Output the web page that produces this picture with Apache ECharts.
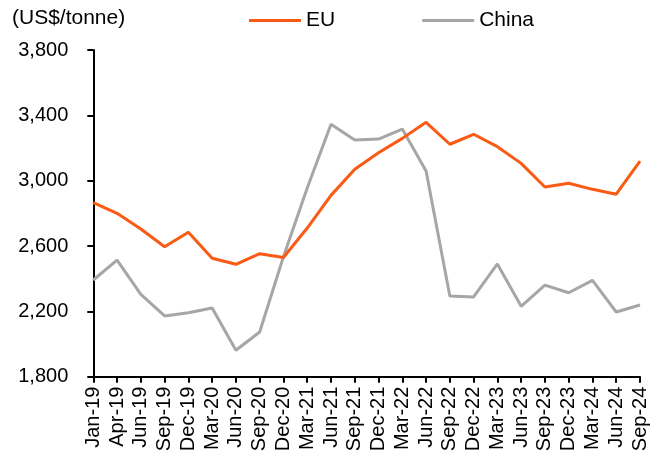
<!DOCTYPE html>
<html>
<head>
<meta charset="utf-8">
<script src="https://cdn.jsdelivr.net/npm/echarts@6/dist/echarts.min.js"></script>
<style>
html,body{margin:0;padding:0;background:#fff;}
#c{width:656px;height:456px;}
</style>
</head>
<body>
<div id="c"></div>
<script>
var categories = ['Jan-19','Apr-19','Jun-19','Sep-19','Dec-19','Mar-20','Jun-20','Sep-20','Dec-20','Mar-21','Jun-21','Sep-21','Dec-21','Mar-22','Jun-22','Sep-22','Dec-22','Mar-23','Jun-23','Sep-23','Dec-23','Mar-24','Jun-24','Sep-24'];
var euValues = [2865, 2800, 2704, 2596, 2684, 2525, 2488, 2553, 2530, 2710, 2910, 3070, 3171, 3259, 3357, 3223, 3284, 3208, 3106, 2961, 2984, 2947, 2917, 3120];
var chinaValues = [2392, 2514, 2304, 2172, 2192, 2221, 1962, 2074, 2535, 2955, 3345, 3249, 3255, 3316, 3059, 2294, 2288, 2490, 2231, 2361, 2314, 2390, 2196, 2239];
var yTicks = {min: 1800, max: 3800, interval: 400};
var unitLabel = '(US$/tonne)';

var FONT = '"Liberation Sans", Arial, sans-serif';
var chart = echarts.init(document.getElementById('c'), null, {renderer: 'canvas'});
chart.setOption({
  animation: false,
  backgroundColor: '#fff',
  textStyle: {fontFamily: FONT, color: '#000'},
  graphic: [{
    type: 'text', left: 12, top: 8,
    style: {text: unitLabel, font: '21px ' + FONT, fill: '#000'}
  }],
  legend: {
    left: 249, top: 10, padding: 0,
    icon: 'rect',
    itemWidth: 52, itemHeight: 3, itemGap: 87,
    textStyle: {fontSize: 21, fontFamily: FONT, color: '#000', padding: [0, 0, 0, 0]},
    data: ['EU', 'China']
  },
  grid: {left: 93.3, right: 16, top: 50, bottom: 79.3, containLabel: false},
  xAxis: {
    type: 'category',
    data: categories,
    boundaryGap: false,
    axisLine: {show: true, lineStyle: {color: '#000', width: 2}},
    axisTick: {show: true, inside: false, length: 6, alignWithLabel: true, lineStyle: {color: '#000', width: 2}},
    axisLabel: {rotate: 90, interval: 0, fontSize: 20, fontFamily: FONT, color: '#000', margin: 10},
    splitLine: {show: false}
  },
  yAxis: {
    type: 'value',
    min: yTicks.min, max: yTicks.max, interval: yTicks.interval,
    axisLine: {show: true, lineStyle: {color: '#000', width: 2}},
    axisTick: {show: true, inside: false, length: 6, lineStyle: {color: '#000', width: 2}},
    axisLabel: {fontSize: 20, fontFamily: FONT, color: '#000', margin: 25,
      formatter: function (v) { return v.toLocaleString('en-US'); }},
    splitLine: {show: false}
  },
  series: [
    {name: 'EU', type: 'line', data: euValues, symbol: 'none',
     lineStyle: {color: '#FA5A14', width: 3}, itemStyle: {color: '#FA5A14'}, z: 3},
    {name: 'China', type: 'line', data: chinaValues, symbol: 'none',
     lineStyle: {color: '#A6A6A6', width: 3}, itemStyle: {color: '#A6A6A6'}, z: 2}
  ]
});
</script>
</body>
</html>
